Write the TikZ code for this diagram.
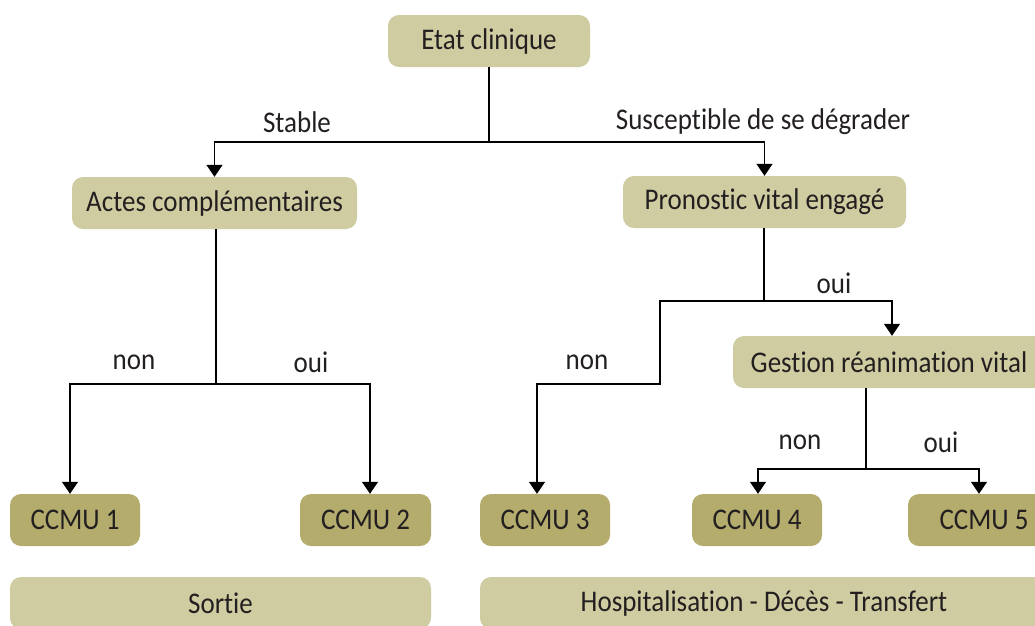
\documentclass[tikz,border=0pt]{standalone}
\usepackage{fontspec}
\setmainfont{Carlito}[FakeStretch=0.9, Ligatures={NoCommon}]
\usetikzlibrary{arrows.meta}
\definecolor{lightbox}{HTML}{CFCCA1}
\definecolor{darkbox}{HTML}{B3AC6D}
\definecolor{ink}{HTML}{231F20}
\begin{document}
\begin{tikzpicture}[x=1pt,y=-1pt,
  box/.style={rounded corners=11pt, inner sep=0pt, minimum height=52pt, text=ink, font=\fontsize{30}{34}\selectfont},
  lbox/.style={box, fill=lightbox},
  dbox/.style={box, fill=darkbox},
  lbl/.style={text=ink, inner sep=0pt, font=\fontsize{30}{34}\selectfont},
  conn/.style={line width=1.3pt, black},
  arr/.style={conn, -{Triangle[width=16pt,length=12pt]}}]
\clip (0,0) rectangle (1035,625);
\fill[white] (0,0) rectangle (1035,625);
% boxes
\node[lbox, minimum width=202pt] (etat) at (489,41) {Etat clinique};
\node[lbox, minimum width=285pt] (actes) at (214.5,203) {Actes complémentaires};
\node[lbox, minimum width=283pt] (pron) at (764.5,202) {Pronostic vital engagé};
\node[lbox, minimum width=312pt] (gest) at (889,362) {Gestion réanimation vital};
\node[dbox, minimum width=130pt] (c1) at (75,520) {CCMU 1};
\node[dbox, minimum width=131pt] (c2) at (365.5,520) {CCMU 2};
\node[dbox, minimum width=130pt] (c3) at (545,520) {CCMU 3};
\node[dbox, minimum width=130pt] (c4) at (757,520) {CCMU 4};
\node[dbox, minimum width=152pt] (c5) at (984,520) {CCMU 5};
\node[lbox, minimum width=421pt] (sortie) at (220.5,603) {Sortie};
\node[lbox, minimum width=568pt] (hosp) at (764,603) {Hospitalisation - Décès - Transfert};
% junctions
\coordinate (j1) at (489,142);
\coordinate (j2) at (216,384);
\coordinate (j3) at (764,301);
\coordinate (j3a) at (660,301);
\coordinate (j3b) at (660,384);
\coordinate (j3c) at (537,384);
\coordinate (j4) at (866,469);
% connectors
\draw[conn] (etat) -- (j1);
\draw[arr] (j1) -| (actes.north);
\draw[arr] (j1) -| (pron.north);
\draw[conn] (actes.south -| j2) -- (j2);
\draw[arr] (j2) -| ([xshift=-5pt]c1.north);
\draw[arr] (j2) -| ([xshift=4.5pt]c2.north);
\draw[conn] (pron.south -| j3) -- (j3);
\draw[arr] (j3) -| ([xshift=3pt]gest.north);
\draw[arr] (j3) -- (j3a) -- (j3b) -- (j3c) -- ([xshift=-8pt]c3.north);
\draw[conn] (gest.south -| j4) -- (j4);
\draw[arr] (j4) -| ([xshift=1pt]c4.north);
\draw[arr] (j4) -| ([xshift=-5pt]c5.north);
% labels
\node[lbl] (l1) at (297,122) {Stable};
\node[lbl] (l2) at (763,122) {Susceptible de se dégrader};
\node[lbl] (l3) at (134,362) {non};
\node[lbl] (l4) at (311,362) {oui};
\node[lbl] (l5) at (834,283) {oui};
\node[lbl] (l6) at (587,362) {non};
\node[lbl] (l7) at (800,442) {non};
\node[lbl] (l8) at (941,442) {oui};
\end{tikzpicture}
\end{document}
